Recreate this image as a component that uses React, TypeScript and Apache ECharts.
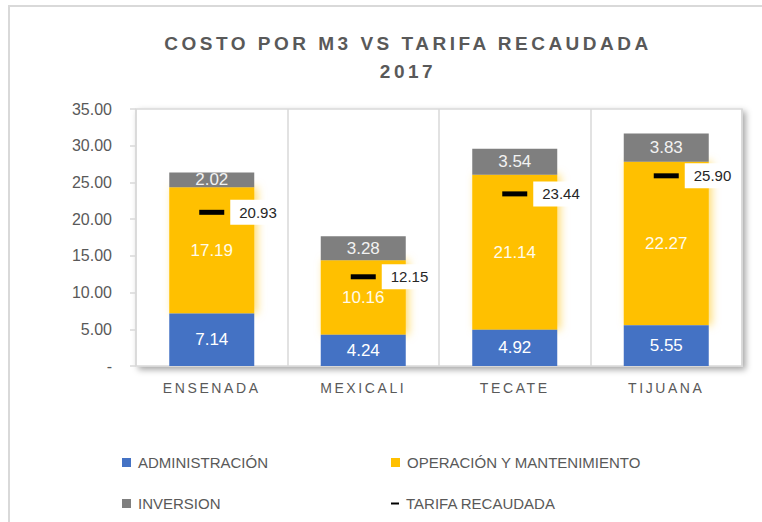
import React, { useEffect, useRef } from "react";
import * as echarts from "echarts";

const categories = ["ENSENADA", "MEXICALI", "TECATE", "TIJUANA"];
const administracion = [7.14, 4.24, 4.92, 5.55];
const operacion = [17.19, 10.16, 21.14, 22.27];
const inversion = [2.02, 3.28, 3.54, 3.83];
const tarifa = [20.93, 12.15, 23.44, 25.9];

const titleText = "COSTO POR M3 VS TARIFA RECAUDADA";
const subTitleText = "2017";

const FONT = "'Liberation Sans', Arial, sans-serif";
const GRAY_TEXT = "#595959";

export default function App() {
  const ref = useRef<HTMLDivElement>(null);

  useEffect(() => {
    if (!ref.current) return;
    const chart = echarts.init(ref.current, null, { renderer: "svg" });

    const legendBase = {
      orient: "horizontal",
      itemWidth: 9,
      itemHeight: 9,
      icon: "rect",
      selectedMode: false,
      textStyle: { color: GRAY_TEXT, fontSize: 15, fontFamily: FONT, padding: [0, 0, 0, 2] },
    };

    const barLabel = (color: string) => ({
      show: true,
      position: "inside",
      color,
      fontSize: 17,
      fontFamily: FONT,
      formatter: (p: any) => Number(p.value).toFixed(2),
    });

    chart.setOption({
      animation: false,
      backgroundColor: "#ffffff",
      textStyle: { fontFamily: FONT },
      graphic: [
        {
          type: "rect",
          shape: { x: 9, y: 6, width: 1000, height: 1000 },
          style: { fill: "none", stroke: "#d9d9d9", lineWidth: 2 },
          silent: true,
          z: -10,
        },
        {
          type: "text",
          x: 408,
          y: 43,
          style: {
            text: titleText,
            align: "center",
            verticalAlign: "middle",
            fill: GRAY_TEXT,
            font: `bold 19px ${FONT}`,
          },
        },
        {
          type: "text",
          x: 408,
          y: 71,
          style: {
            text: subTitleText,
            align: "center",
            verticalAlign: "middle",
            fill: GRAY_TEXT,
            font: `bold 19px ${FONT}`,
          },
        },
      ],
      legend: [
        { ...legendBase, left: 117, top: 450, data: ["ADMINISTRACIÓN"] },
        { ...legendBase, left: 386, top: 450, data: ["OPERACIÓN Y MANTENIMIENTO"] },
        { ...legendBase, left: 117, top: 491, data: ["INVERSION"] },
        {
          ...legendBase,
          left: 386,
          top: 491,
          itemWidth: 8,
          itemHeight: 2,
          data: [{ name: "TARIFA RECAUDADA", icon: "rect", itemStyle: { color: "#000000", opacity: 1 } }],
        },
      ],
      grid: {
        left: 136,
        right: 20,
        top: 109,
        bottom: 156,
        show: true,
        backgroundColor: "#ffffff",
        borderColor: "#d9d9d9",
        borderWidth: 1.5,
        shadowBlur: 6,
        shadowColor: "rgba(0,0,0,0.35)",
        shadowOffsetX: 3,
        shadowOffsetY: 3,
      },
      xAxis: {
        type: "category",
        data: categories,
        axisLine: { show: false },
        axisTick: { show: false },
        axisLabel: { color: GRAY_TEXT, fontSize: 14, fontFamily: FONT, margin: 15 },
        splitLine: { show: true, lineStyle: { color: "#d9d9d9", width: 1.5 } },
      },
      yAxis: {
        type: "value",
        min: 0,
        max: 35,
        interval: 5,
        axisLine: { show: false },
        axisTick: { show: true, length: 6, lineStyle: { color: "#d9d9d9", width: 1.5 } },
        splitLine: { show: false },
        axisLabel: {
          color: GRAY_TEXT,
          fontSize: 16,
          fontFamily: FONT,
          margin: 24,
          formatter: (v: number) => (v === 0 ? "-" : v.toFixed(2)),
        },
      },
      series: [
        {
          name: "ADMINISTRACIÓN",
          type: "bar",
          stack: "total",
          barWidth: 85,
          z: 3,
          data: administracion,
          itemStyle: { color: "#4472C4" },
          label: barLabel("#ffffff"),
        },
        {
          name: "OPERACIÓN Y MANTENIMIENTO",
          type: "bar",
          stack: "total",
          barWidth: 85,
          z: 2,
          data: operacion,
          itemStyle: {
            color: "#FFC000",
            shadowBlur: 8,
            shadowColor: "rgba(255,192,0,0.55)",
            shadowOffsetX: 3,
          },
          label: barLabel("#fffbea"),
        },
        {
          name: "INVERSION",
          type: "bar",
          stack: "total",
          barWidth: 85,
          z: 3,
          data: inversion,
          itemStyle: { color: "#7F7F7F" },
          label: barLabel("#f2f2f2"),
        },
        {
          name: "TARIFA RECAUDADA",
          type: "scatter",
          data: tarifa,
          symbol: "rect",
          symbolSize: [25, 5],
          itemStyle: { color: "#000000", opacity: 1 },
          z: 5,
          label: {
            show: true,
            position: "right",
            distance: 6,
            color: "#262626",
            fontSize: 15,
            fontFamily: FONT,
            backgroundColor: "#ffffff",
            padding: [5, 9, 5, 9],
            formatter: (p: any) => Number(p.value).toFixed(2),
          },
        },
      ],
    });

    const spacing: Record<string, string> = {
      [titleText]: "3.5px",
      [subTitleText]: "3.5px",
    };
    categories.forEach((c) => (spacing[c] = "2.6px"));

    const applySpacing = () => {
      if (!ref.current) return;
      ref.current.querySelectorAll("text").forEach((t) => {
        const s = (t.textContent || "").trim();
        if (spacing[s]) (t as SVGTextElement).style.letterSpacing = spacing[s];
      });
    };
    applySpacing();
    chart.on("rendered", applySpacing);
    const timer = setTimeout(applySpacing, 0);

    return () => {
      clearTimeout(timer);
      chart.dispose();
    };
  }, []);

  return (
    <div
      ref={ref}
      style={{ position: "absolute", left: 0, top: 0, width: 762, height: 522 }}
    />
  );
}
